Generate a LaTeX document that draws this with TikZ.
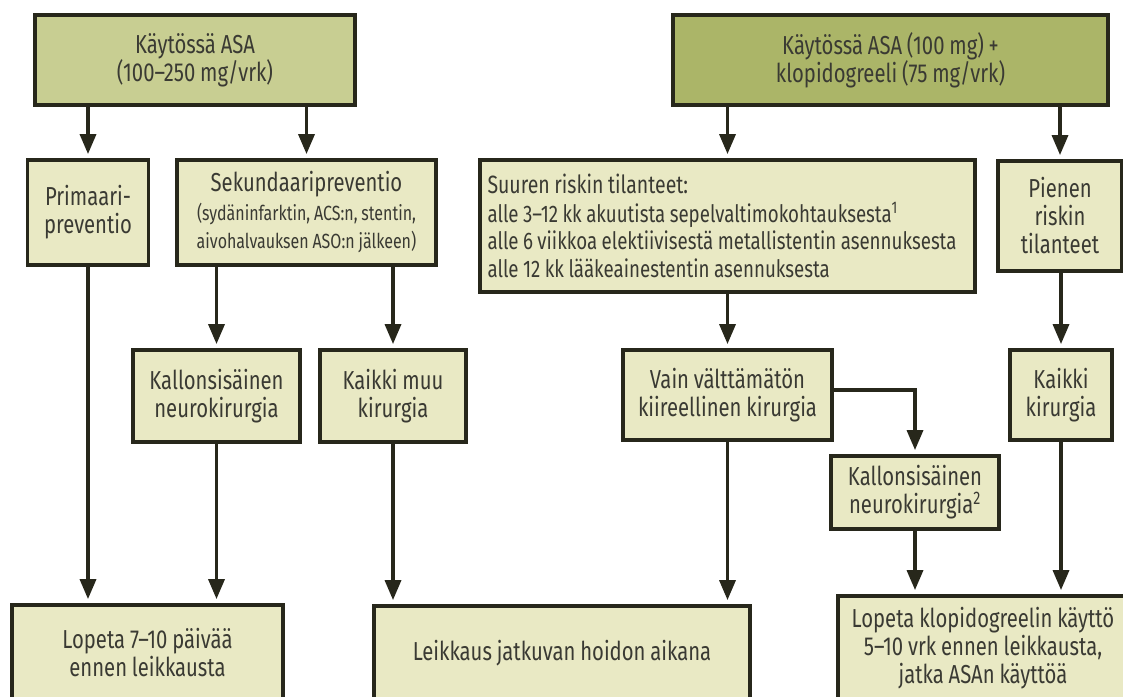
\documentclass[tikz,border=0pt]{standalone}
\usepackage{fontspec}
\setmainfont{Fira Sans}[FakeStretch=0.78,WordSpace=0.9]
\usetikzlibrary{arrows.meta,calc}
\definecolor{boxline}{HTML}{27271B}
\definecolor{pale}{HTML}{E9E9C4}
\definecolor{olivea}{HTML}{C8CE92}
\definecolor{oliveb}{HTML}{ABB568}
\definecolor{txt}{HTML}{3A3A33}
\newcommand{\smallt}{\fontsize{20.5}{22}\selectfont}
\newcommand{\listt}{\fontsize{24}{27.5}\selectfont\spaceskip=0pt\xspaceskip=0pt\relax}
\tikzset{
  box/.style={draw=boxline, line width=3.8pt, fill=pale, align=center, inner sep=0pt,
    text=txt, font=\fontsize{26}{28}\selectfont},
  topa/.style={box, fill=olivea},
  topb/.style={box, fill=oliveb},
  arr/.style={draw=boxline, line width=3.4pt, -{Triangle[width=16pt,length=20pt]}, shorten >=4pt},
}
\begin{document}
\lineskiplimit=-30pt
\hyphenpenalty=10000
\begin{tikzpicture}[x=1pt,y=-1pt]
\useasboundingbox (0,0) rectangle (1123,696);
\clip (0,0) rectangle (1123,696);
% top row
\node[topa, minimum width=320, minimum height=90] (asa) at (195,60) {Käytössä ASA\\(100–250 mg/vrk)};
\node[topb, minimum width=435, minimum height=90] (asak) at (890.5,60) {Käytössä ASA (100 mg) +\\klopidogreeli (75 mg/vrk)};
% second row
\node[box, minimum width=121, minimum height=105] (prim) at (88,212.5) {Primaari-\\preventio};
\node[box, minimum width=259, minimum height=105] (sek) at (306.5,212.5)
  {Sekundaaripreventio\\[1pt]\smallt (sydäninfarktin, ACS:n, stentin,\\\smallt aivohalvauksen ASO:n jälkeen)};
\node[box, minimum width=495, minimum height=132, align=left, text width=480pt] (suur) at (727.5,226)
  {\fontsize{25}{27}\selectfont\spaceskip=0pt\relax Suuren riskin tilanteet:\\[1pt]
   \listt alle 3–12 kk akuutista sepelvaltimokohtauksesta\textsuperscript{1}\\
   \listt alle 6 viikkoa elektiivisestä metallistentin asennuksesta\\
   \listt alle 12 kk lääkeainestentin asennuksesta};
\node[box, minimum width=124, minimum height=110] (pien) at (1060,216) {Pienen\\riskin\\tilanteet};
% third row
\node[box, minimum width=167, minimum height=92] (kal) at (216.5,396) {Kallonsisäinen\\neurokirurgia};
\node[box, minimum width=146, minimum height=92] (muu) at (393,396) {Kaikki muu\\kirurgia};
\node[box, minimum width=209, minimum height=90] (vain) at (727.5,395) {Vain välttämätön\\kiireellinen kirurgia};
\node[box, minimum width=102, minimum height=90] (kaik) at (1061,395) {Kaikki\\kirurgia};
\node[box, minimum width=168, minimum height=73] (kal2) at (915,492.5) {Kallonsisäinen\\neurokirurgia\textsuperscript{2}};
% bottom row
\node[box, minimum width=271, minimum height=95] (stopl) at (147.5,652.5) {Lopeta 7–10 päivää\\ennen leikkausta};
\node[box, minimum width=376, minimum height=94] (leik) at (562,653) {Leikkaus jatkuvan hoidon aikana};
\node[box, minimum width=290, minimum height=104] (stopr) at (983,648) {Lopeta klopidogreelin käyttö\\5–10 vrk ennen leikkausta,\\jatka ASAn käyttöä};
% connectors
\draw[arr] (prim.north |- asa.south) -- (prim.north);
\draw[arr] (sek.north |- asa.south) -- (sek.north);
\draw[arr] (suur.north |- asak.south) -- (suur.north);
\draw[arr] (pien.north |- asak.south) -- (pien.north);
\draw[arr] (kal.north |- sek.south) -- (kal.north);
\draw[arr] (muu.north |- sek.south) -- (muu.north);
\draw[arr] (suur.south) -- (vain.north);
\draw[arr] (kaik.north |- pien.south) -- (kaik.north);
\draw[arr] ([yshift=5pt]vain.east) -| (kal2.north);
\draw[arr] (prim.south) -- (prim.south |- stopl.north);
\draw[arr] (kal.south) -- (kal.south |- stopl.north);
\draw[arr] (muu.south) -- (muu.south |- leik.north);
\draw[arr] (vain.south) -- (vain.south |- leik.north);
\draw[arr] (kal2.south) -- (kal2.south |- stopr.north);
\draw[arr] (kaik.south) -- (kaik.south |- stopr.north);
\end{tikzpicture}
\end{document}
